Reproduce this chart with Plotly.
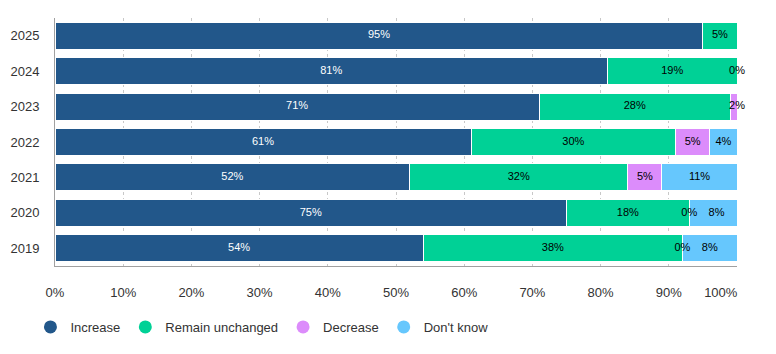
import plotly.graph_objects as go

years = ["2025", "2024", "2023", "2022", "2021", "2020", "2019"]
increase = [95, 81, 71, 61, 52, 75, 54]
unchanged = [5, 19, 28, 30, 32, 18, 38]
decrease = [None, 0, 2, 5, 5, 0, 0]
dont_know = [None, None, None, 4, 11, 8, 8]

series = [
    ("Increase", increase, "#22578a", "white"),
    ("Remain unchanged", unchanged, "#00d196", "black"),
    ("Decrease", decrease, "#dc8cfb", "black"),
    ("Don't know", dont_know, "#66c7fd", "black"),
]

tick_vals = [0, 10, 20, 30, 40, 50, 60, 70, 80, 90, 100]
tick_text = ["0%", "10%", "20%", "30%", "40%", "50%", "60%", "70%", "80%", "90%",
             "100%" + "\u00a0" * 9]

FONT = "Liberation Sans, Arial, sans-serif"

fig = go.Figure()
cum = [0.0] * len(years)
for name, vals, color, tcolor in series:
    fig.add_trace(go.Bar(
        y=years, x=[v if v is not None else 0 for v in vals], orientation="h",
        name=name, marker=dict(color=color, line=dict(color="white", width=1)),
        showlegend=False, hoverinfo="skip",
    ))
    xs, ys, ts = [], [], []
    for i, v in enumerate(vals):
        if v is None:
            continue
        xs.append(cum[i] + v / 2)
        ys.append(years[i])
        ts.append(f"{v}%")
        cum[i] += v
    fig.add_trace(go.Scatter(
        x=xs, y=ys, text=ts, mode="text", showlegend=False, cliponaxis=False,
        textfont=dict(color=tcolor, size=11, family=FONT),
        hoverinfo="skip",
    ))

for name, vals, color, tcolor in series:
    fig.add_trace(go.Scatter(
        x=[None], y=[None], mode="markers", name=name,
        marker=dict(color=color, size=13, symbol="circle"),
    ))

fig.update_layout(
    width=776, height=354,
    margin=dict(l=55, r=39, t=18, b=88),
    barmode="stack", bargap=0.24,
    plot_bgcolor="white", paper_bgcolor="white",
    font=dict(family=FONT, size=12, color="#333333"),
    xaxis=dict(
        range=[0, 100], tickvals=tick_vals, ticktext=tick_text,
        showgrid=True, gridcolor="#c8c8c8", griddash="dot", gridwidth=1,
        showline=True, linecolor="#a0a0a0", linewidth=1,
        zeroline=False, ticks="", ticklen=0, ticklabelstandoff=14,
        tickfont=dict(size=13, color="#333333"),
        fixedrange=True, automargin=False,
    ),
    yaxis=dict(
        type="category", categoryorder="array", categoryarray=years,
        autorange="reversed",
        showline=True, linecolor="#a0a0a0", linewidth=1,
        showgrid=False, ticks="", ticklen=0, ticklabelstandoff=12,
        tickfont=dict(size=13, color="#333333"),
        fixedrange=True, automargin=False,
    ),
    legend=dict(
        orientation="h", x=-0.036, xanchor="left", y=-0.246, yanchor="middle",
        font=dict(size=13, color="#333333"), itemwidth=30,
        traceorder="normal",
    ),
)

fig.write_html("out.html")
